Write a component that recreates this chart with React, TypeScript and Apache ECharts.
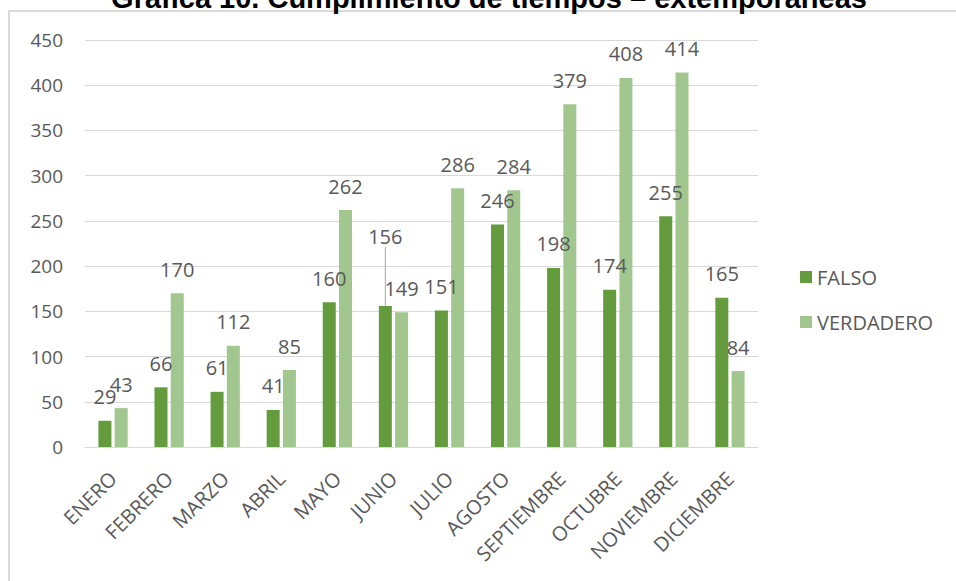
import React, { useEffect, useRef } from "react";
import * as echarts from "echarts";

const categories = ["ENERO", "FEBRERO", "MARZO", "ABRIL", "MAYO", "JUNIO", "JULIO", "AGOSTO", "SEPTIEMBRE", "OCTUBRE", "NOVIEMBRE", "DICIEMBRE"];
const falso = [29, 66, 61, 41, 160, 156, 151, 246, 198, 174, 255, 165];
const verdadero = [43, 170, 112, 85, 262, 149, 286, 284, 379, 408, 414, 84];
const titleText = "Gráfica 10. Cumplimiento de tiempos – extemporáneas";
const movedLabelIndex = 5;

const FONT = "'Open Sans', 'Noto Sans', sans-serif";
const GRAY = "#595959";

export default function App() {
  const ref = useRef<HTMLDivElement>(null);
  useEffect(() => {
    if (!ref.current) return;
    const chart = echarts.init(ref.current, null, { renderer: "svg" });
    const labelStyle = {
      show: true,
      position: "top" as const,
      distance: 14,
      color: GRAY,
      fontSize: 20,
      fontFamily: FONT,
    };
    chart.setOption({
      animation: false,
      backgroundColor: "#ffffff",
      textStyle: { fontFamily: FONT },
      graphic: [
        {
          type: "rect",
          shape: { x: 9, y: 11, width: 1200, height: 1000 },
          style: { fill: "none", stroke: "#d9d9d9", lineWidth: 2 },
          silent: true,
        },
        {
          type: "text",
          x: 489,
          y: 12,
          style: {
            text: titleText,
            fontFamily: "'Liberation Sans', Arial, sans-serif",
            fontWeight: "bold",
            fontSize: 29,
            fill: "#000000",
            align: "center",
            verticalAlign: "bottom",
          },
        },
      ],
      legend: {
        orient: "vertical",
        left: 795,
        top: 262,
        itemWidth: 12,
        itemHeight: 12,
        itemGap: 25,
        icon: "rect",
        textStyle: { color: GRAY, fontSize: 20, fontFamily: FONT },
        data: ["FALSO", "VERDADERO"],
      },
      grid: { left: 85, right: 198, top: 40, bottom: 134, containLabel: false },
      xAxis: {
        type: "category",
        data: categories,
        axisLine: { show: true, lineStyle: { color: "#d9d9d9", width: 1 } },
        axisTick: { show: false },
        axisLabel: {
          rotate: 45,
          interval: 0,
          margin: 28,
          color: GRAY,
          fontSize: 20,
          fontFamily: FONT,
        },
      },
      yAxis: {
        type: "value",
        min: 0,
        max: 450,
        interval: 50,
        axisLine: { show: false },
        axisTick: { show: false },
        splitLine: { lineStyle: { color: "#d9d9d9", width: 1 } },
        axisLabel: { color: GRAY, fontSize: 19, margin: 22, fontFamily: FONT },
      },
      series: [
        {
          name: "FALSO",
          type: "bar",
          data: falso.map((v, i) =>
            i === movedLabelIndex
              ? { value: v, labelLine: { show: true, lineStyle: { color: "#a6a6a6", width: 1 } } }
              : { value: v, labelLine: { show: false } }
          ),
          barWidth: 13,
          barGap: "25%",
          itemStyle: { color: "#639B3D" },
          label: labelStyle,
          labelLine: { show: false },
          labelLayout: (p: any) => (p.dataIndex === movedLabelIndex ? { dy: -45 } : {}),
        },
        {
          name: "VERDADERO",
          type: "bar",
          data: verdadero,
          barWidth: 13,
          barGap: "25%",
          itemStyle: { color: "#A2C78E" },
          label: labelStyle,
        },
      ],
    });
    return () => chart.dispose();
  }, []);
  return (
    <div
      ref={ref}
      style={{ position: "fixed", left: 0, top: 0, width: 956, height: 581 }}
    />
  );
}
